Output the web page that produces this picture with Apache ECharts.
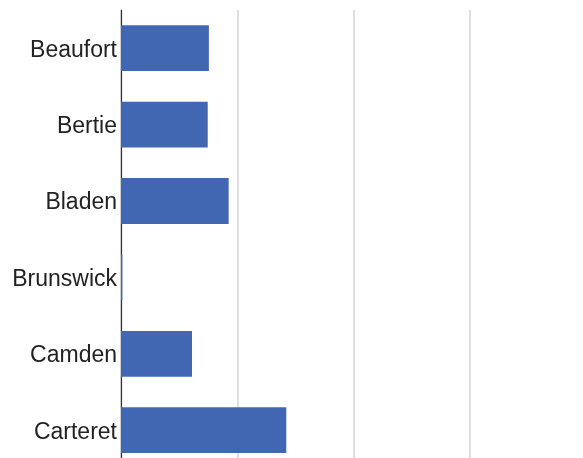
<!DOCTYPE html>
<html>
<head>
<meta charset="utf-8">
<script src="https://cdn.jsdelivr.net/npm/echarts@6/dist/echarts.min.js"></script>
<style>
  html, body { margin: 0; padding: 0; background: #ffffff; }
  #chart { width: 583px; height: 458px; }
</style>
</head>
<body>
<div id="chart"></div>
<script>
// Counties, listed top to bottom
const counties = ['Beaufort', 'Bertie', 'Bladen', 'Brunswick', 'Camden', 'Carteret'];
// Bar values per county
const values = [7.55, 7.45, 9.25, 0.12, 6.1, 14.2];
// Value axis range and gridline step
const axisMin = 0;
const axisMax = 40;
const axisStep = 10;

const chart = echarts.init(document.getElementById('chart'), null, { renderer: 'canvas' });

chart.setOption({
  animation: false,
  backgroundColor: '#ffffff',
  grid: {
    left: 121, top: 10, width: 465.6, height: 458.4,
    containLabel: false,
    outerBoundsMode: 'none'
  },
  xAxis: {
    type: 'value',
    min: axisMin,
    max: axisMax,
    interval: axisStep,
    axisLabel: { show: false },
    axisTick: { show: false },
    axisLine: { show: false },
    splitLine: { show: true, lineStyle: { color: '#d4d4d4', width: 1.5 } }
  },
  yAxis: {
    type: 'category',
    inverse: true,
    data: counties,
    axisTick: { show: false },
    axisLine: { show: true, lineStyle: { color: '#333333', width: 1.2 } },
    axisLabel: {
      margin: 4,
      formatter: '{n|{value}}',
      rich: {
        n: {
          color: '#222222',
          fontFamily: 'Liberation Sans, Arial, sans-serif',
          fontSize: 23,
          padding: [4, 0, 0, 0]
        }
      }
    }
  },
  series: [{
    type: 'bar',
    data: values,
    barCategoryGap: '40%',
    itemStyle: { color: '#4267b2' }
  }]
});
</script>
</body>
</html>
